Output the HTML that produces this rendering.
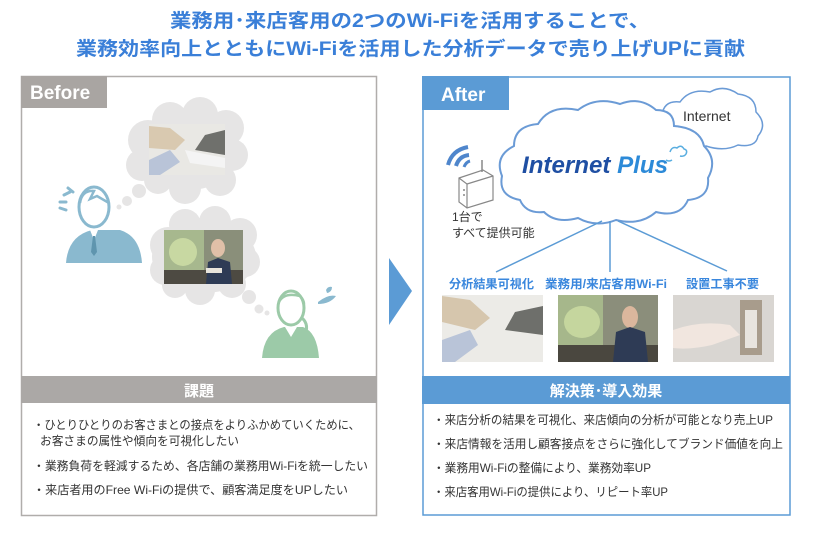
<!DOCTYPE html>
<html><head><meta charset="utf-8"><style>
html,body{margin:0;padding:0;background:#fff;}
svg{display:block;font-family:"Liberation Sans","Noto Sans CJK JP",sans-serif;}
</style></head><body>
<svg width="820" height="536" viewBox="0 0 820 536" xmlns="http://www.w3.org/2000/svg">
<g fill="#3a7fd8" font-weight="bold" font-size="19">
<text x="170" y="27" textLength="480" lengthAdjust="spacingAndGlyphs">業務用･来店客用の2つのWi-Fiを活用することで、</text>
<text x="76" y="55" textLength="669" lengthAdjust="spacingAndGlyphs">業務効率向上とともにWi-Fiを活用した分析データで売り上げUPに貢献</text>
</g>

<rect x="21.5" y="76.5" width="355" height="439" fill="#fff" stroke="#b0adab" stroke-width="1.5"/>
<rect x="21" y="76" width="86" height="32" fill="#a9a5a2"/>
<text x="30" y="99" fill="#fff" font-weight="bold" font-size="19">Before</text>

<g fill="#e6e5e5">
<ellipse cx="188" cy="152" rx="52" ry="38"/>
<circle cx="148" cy="140" r="20"/><circle cx="142" cy="165" r="16"/>
<circle cx="170" cy="120" r="18"/><circle cx="200" cy="115" r="18"/><circle cx="226" cy="128" r="18"/>
<circle cx="232" cy="155" r="16"/><circle cx="220" cy="180" r="16"/><circle cx="185" cy="188" r="16"/><circle cx="158" cy="180" r="14"/>
<circle cx="139" cy="191" r="7"/><circle cx="127" cy="201" r="5"/><circle cx="119" cy="207" r="2.5"/>
<ellipse cx="204" cy="257" rx="52" ry="36"/>
<circle cx="168" cy="245" r="18"/><circle cx="165" cy="270" r="15"/>
<circle cx="185" cy="225" r="16"/><circle cx="215" cy="222" r="16"/><circle cx="240" cy="235" r="17"/>
<circle cx="245" cy="262" r="15"/><circle cx="232" cy="284" r="14"/><circle cx="200" cy="290" r="15"/><circle cx="175" cy="285" r="13"/>
<circle cx="249" cy="297" r="7"/><circle cx="259" cy="309" r="4.5"/><circle cx="267" cy="313" r="2.5"/>
</g>
<rect x="149" y="124" width="76" height="51" fill="#e9e8e4"/>
<path d="M149 126 L170 128 L185 140 L175 150 L149 148Z" fill="#d9c9b0"/>
<path d="M225 130 L205 135 L195 150 L225 155Z" fill="#6f706c"/>
<path d="M149 160 L170 150 L180 162 L160 175 L149 175Z" fill="#b9c4d8"/>
<path d="M185 150 L225 158 L225 168 L190 163Z" fill="#f4f4f4"/>
<rect x="164" y="230" width="79" height="54" fill="#8a8f7a"/>
<rect x="164" y="230" width="40" height="54" fill="#a7b88e"/>
<ellipse cx="183" cy="252" rx="14" ry="14" fill="#c8d8a2"/>
<rect x="164" y="270" width="79" height="14" fill="#4d4a42"/>
<ellipse cx="218" cy="248" rx="7" ry="9" fill="#e0c0a8"/>
<path d="M206 284 L208 262 L218 258 L230 262 L232 284Z" fill="#2e3b55"/>
<rect x="206" y="268" width="16" height="5" fill="#e8e4dc"/>

<g>
<path d="M66 263 Q68 236 92 230 L120 230 Q140 236 142 263Z" fill="#8ab9cf"/>
<path d="M90 230 L94 240 L98 230" fill="#fff"/>
<path d="M93 236 L91 252 L94 256 L97 252 L95 236Z" fill="#5f95ae"/>
<ellipse cx="94" cy="207" rx="15" ry="20" fill="#fff" stroke="#8ab9cf" stroke-width="3"/>
<path d="M80 203 Q82 190 94 191 L90 199 L97 196 L109 203" fill="none" stroke="#8ab9cf" stroke-width="2.5"/>
<path d="M64 195 L70 192 M60 202 L66 202 M60 208 L66 210 M68 188 L73 192" stroke="#8ab9cf" stroke-width="3" stroke-linecap="round"/>
</g>
<g>
<path d="M262 358 Q264 332 284 327 L303 327 Q317 332 319 358Z" fill="#9ccaa8"/>
<path d="M285 327 L291 337 L297 327Z" fill="#fff"/>
<ellipse cx="291" cy="308" rx="13" ry="17" fill="#fff" stroke="#9ccaa8" stroke-width="3"/>
<path d="M279 302 Q284 292 300 296 Q304 300 304 304" fill="none" stroke="#9ccaa8" stroke-width="2.5"/>
<path d="M302 318 Q310 325 304 337" fill="none" stroke="#9ccaa8" stroke-width="3"/>
<path d="M318 302 Q328 294 336 296 Q330 304 318 304Z" fill="#8ab9cf"/>
<path d="M326 290 Q328 286 332 287 Q332 292 327 293Z" fill="#8ab9cf"/>
</g>

<rect x="21" y="376" width="356" height="27" fill="#aba8a6"/>
<text x="199" y="396" fill="#fff" font-weight="bold" font-size="15" text-anchor="middle">課題</text>
<g fill="#333" font-size="12">
<text x="33" y="429" textLength="327" lengthAdjust="spacingAndGlyphs">・ひとりひとりのお客さまとの接点をよりふかめていくために、</text>
<text x="40" y="445" textLength="199" lengthAdjust="spacingAndGlyphs">お客さまの属性や傾向を可視化したい</text>
<text x="33" y="470" textLength="335" lengthAdjust="spacingAndGlyphs">・業務負荷を軽減するため、各店舗の業務用Wi-Fiを統一したい</text>
<text x="33" y="494" textLength="315" lengthAdjust="spacingAndGlyphs">・来店者用のFree Wi-Fiの提供で、顧客満足度をUPしたい</text>
</g>

<path d="M389 258 L412 291 L389 325Z" fill="#5b9bd5"/>

<rect x="423" y="77" width="367" height="438" fill="#fff" stroke="#5b9bd5" stroke-width="1.5"/>
<rect x="422" y="76" width="87" height="34" fill="#5b9bd5"/>
<text x="441" y="101" fill="#fff" font-weight="bold" font-size="19">After</text>

<path d="M668 140 Q656 130 662 115 Q664 100 680 102 Q690 88 710 92 Q724 84 738 94 Q756 96 756 112 Q768 124 758 136 Q756 148 738 145 Q724 152 706 146 Q694 150 684 144 Q674 146 668 140Z" fill="#fff" stroke="#6b9bd6" stroke-width="1.5"/>
<text x="683" y="121" font-size="14" fill="#333">Internet</text>
<path d="M520 200 Q498 196 502 176 Q494 156 514 146 Q514 126 538 124 Q550 104 578 110 Q596 96 620 104 Q640 96 656 110 Q674 110 674 126 Q700 128 704 146 Q718 160 708 178 Q710 198 688 200 Q680 218 656 212 Q640 226 616 220 Q596 228 578 218 Q556 224 544 212 Q526 214 520 200Z" fill="#fff" stroke="#6b9bd6" stroke-width="2"/>
<text x="522" y="173" font-size="24" font-weight="bold" font-style="italic" fill="#1f4fa3" textLength="146" lengthAdjust="spacingAndGlyphs">Internet <tspan fill="#2c8ad8">Plus</tspan></text>
<path d="M670 152 q2 -6 7 -4 q4 -4 7 1 q4 1 2 5 q-2 3 -6 2 M672 160 q-3 2 -6 0" fill="none" stroke="#5aaee0" stroke-width="1.5"/>

<g>
<path d="M448 165 Q452 150 468 147" fill="none" stroke="#4f86cc" stroke-width="4"/>
<path d="M456 166 Q459 156 469 155" fill="none" stroke="#4f86cc" stroke-width="4"/>
<path d="M464 167 Q466 162 470 161" fill="none" stroke="#4f86cc" stroke-width="3"/>
<path d="M459 178 L483 170 L493 176 L493 200 L467 208 L459 202Z" fill="#fff" stroke="#888" stroke-width="1.2"/>
<path d="M459 178 L467 184 L467 208 M467 184 L493 176" fill="none" stroke="#888" stroke-width="1.2"/>
<line x1="482" y1="160" x2="482" y2="172" stroke="#888" stroke-width="1.5"/>
<circle cx="464" cy="190" r="1" fill="#888"/><circle cx="464" cy="195" r="1" fill="#888"/>
</g>
<text x="452" y="221" font-size="12" fill="#333">1台で</text>
<text x="452" y="237" font-size="12" fill="#333">すべて提供可能</text>

<g stroke="#5b9bd5" stroke-width="1.5">
<line x1="602" y1="221" x2="496" y2="272"/>
<line x1="610" y1="221" x2="610" y2="272"/>
<line x1="618" y1="221" x2="727" y2="271"/>
</g>
<g fill="#3a87dd" font-size="12" font-weight="bold">
<text x="449" y="288" textLength="85" lengthAdjust="spacingAndGlyphs">分析結果可視化</text>
<text x="545" y="288" textLength="122" lengthAdjust="spacingAndGlyphs">業務用/来店客用Wi-Fi</text>
<text x="686" y="288" textLength="73" lengthAdjust="spacingAndGlyphs">設置工事不要</text>
</g>
<rect x="442" y="295" width="101" height="67" fill="#ecebe7"/>
<path d="M442 296 L470 300 L490 318 L475 330 L442 322Z" fill="#d6c6ad"/>
<path d="M543 306 L515 312 L505 330 L543 335Z" fill="#6e6f6b"/>
<path d="M442 340 L470 330 L478 345 L455 362 L442 362Z" fill="#b9c4d8"/>
<rect x="558" y="295" width="100" height="67" fill="#8b8e7b"/>
<rect x="558" y="295" width="45" height="67" fill="#a6b78b"/>
<ellipse cx="582" cy="322" rx="18" ry="16" fill="#c5d69e"/>
<rect x="558" y="345" width="100" height="17" fill="#4a473f"/>
<ellipse cx="630" cy="317" rx="8" ry="11" fill="#dbb79d"/>
<path d="M613 362 L616 332 L630 327 L645 332 L648 362Z" fill="#2e3b55"/>
<rect x="673" y="295" width="101" height="67" fill="#d9d6d2"/>
<rect x="740" y="300" width="22" height="55" fill="#a89c8c"/>
<rect x="745" y="310" width="12" height="38" fill="#e8e4de"/>
<path d="M673 330 Q700 320 730 325 L740 335 L712 345 Q690 350 673 348Z" fill="#f1e6df"/>

<rect x="422" y="376" width="368" height="28" fill="#5b9bd5"/>
<text x="606" y="396" fill="#fff" font-weight="bold" font-size="15" text-anchor="middle">解決策･導入効果</text>
<g fill="#333" font-size="12">
<text x="433" y="424" textLength="340" lengthAdjust="spacingAndGlyphs">・来店分析の結果を可視化、来店傾向の分析が可能となり売上UP</text>
<text x="433" y="448" textLength="350" lengthAdjust="spacingAndGlyphs">・来店情報を活用し顧客接点をさらに強化してブランド価値を向上</text>
<text x="433" y="472" textLength="218" lengthAdjust="spacingAndGlyphs">・業務用Wi-Fiの整備により、業務効率UP</text>
<text x="433" y="496" textLength="235" lengthAdjust="spacingAndGlyphs">・来店客用Wi-Fiの提供により、リピート率UP</text>
</g>
</svg>
</body></html>
